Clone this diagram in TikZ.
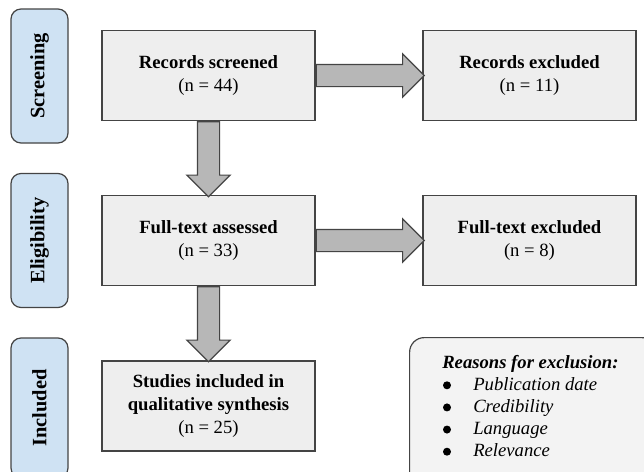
\documentclass[tikz,border=0pt]{standalone}
\usepackage{fontspec}
\setmainfont{Liberation Serif}
\usepackage{tikz}
\usetikzlibrary{shapes,arrows}

\definecolor{boxgray}{HTML}{EEEEEE}
\definecolor{arrowgray}{HTML}{B7B7B7}
\definecolor{edgegray}{HTML}{444444}
\definecolor{stageblue}{HTML}{CFE2F3}
\definecolor{notegray}{HTML}{F3F3F3}

\newcommand{\itemgap}{\hspace*{23.25pt}}

\tikzset{
  stepbox/.style={draw=edgegray, line width=0.9pt, fill=boxgray, align=center,
    minimum width=159.75pt, minimum height=67.5pt, inner sep=2pt,
    font=\fontsize{14}{17.25}\selectfont},
  stagebox/.style={draw=edgegray, line width=0.9pt, fill=stageblue, rounded corners=7.5pt,
    rotate=90, minimum width=100.5pt, minimum height=42.75pt,
    font=\fontsize{15.3}{17}\selectfont\bfseries},
  fatarrow/.style={single arrow, draw=edgegray, line width=0.9pt, fill=arrowgray,
    inner sep=0pt, inner ysep=7.875pt, single arrow head extend=7.875pt,
    single arrow tip angle=90, sloped, pos=0, anchor=tail},
}

\begin{document}
\begin{tikzpicture}[x=0.75pt, y=-0.75pt]
      \useasboundingbox (0,0) rectangle (644,472);
      \clip (0,0) rectangle (644,472);
      \fill[white] (0,0) rectangle (644,472);

      % stages
      \node[stagebox] (screening) at (39.5, 76) {Screening};
      \node[stagebox] (eligibility) at (39.5, 240.5) {Eligibility};
      \node[stagebox, minimum width=105pt] (included) at (39.5, 408) {Included};

      % boxes
      \node[stepbox] (screened) at (208.5, 75.5) {\textbf{Records screened}\\(n = 44)};
      \node[stepbox] (recexcl) at (529.5, 75.5) {\textbf{Records excluded}\\(n = 11)};
      \node[stepbox] (assessed) at (208.5, 240.5) {\textbf{Full-text assessed}\\(n = 33)};
      \node[stepbox] (fullexcl) at (529.5, 240.5) {\textbf{Full-text excluded}\\(n = 8)};
      \node[stepbox] (studies) at (208.5, 406) {\textbf{Studies included in}\\\textbf{qualitative synthesis}\\(n = 25)};

      % reasons
      \node[draw=edgegray, line width=0.9pt, fill=notegray, rounded corners=11pt,
            anchor=north west, minimum width=185pt, minimum height=125pt] (reasons) at (409, 337) {};
      \node[anchor=north west, align=left, inner sep=0pt,
            font=\fontsize{14}{16.6}\selectfont] (reasonlist) at (442, 355) {%
        \textbf{\textit{Reasons for exclusion:}}\\
        \itemgap\textit{Publication date}\\
        \itemgap\textit{Credibility}\\
        \itemgap\textit{Language}\\
        \itemgap\textit{Relevance}};
      \foreach \k in {0,...,3}
        \fill (447, 385.3+22.13*\k) circle (3pt);

      % arrows
      \path (screened) -- (recexcl) node[fatarrow, minimum height=81pt] {};
      \path (assessed) -- (fullexcl) node[fatarrow, minimum height=81pt] {};
      \path (screened) -- (assessed) node[fatarrow, minimum height=56.25pt] {};
      \path (assessed) -- (studies) node[fatarrow, minimum height=56.25pt] {};
\end{tikzpicture}
\end{document}
